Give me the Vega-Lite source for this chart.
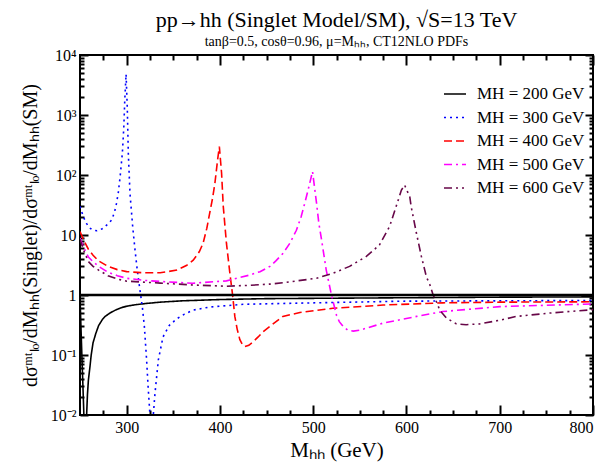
{
  "$schema": "https://vega.github.io/schema/vega-lite/v6.json",
  "width": 513,
  "height": 360,
  "autosize": {"type": "none"},
  "padding": {"left": 80, "top": 55, "right": 12, "bottom": 49},
  "background": "white",
  "config": {
    "view": {"stroke": "#000", "strokeWidth": 2},
    "font": "Liberation Serif"
  },
  "title": {
    "text": "pp→hh (Singlet Model/SM), √S=13 TeV",
    "subtitle": "tanβ=0.5, cosθ=0.96, μ=Mₕₕ, CT12NLO PDFs",
    "fontSize": 22, "subtitleFontSize": 14,
    "font": "Liberation Serif", "subtitleFont": "Liberation Serif",
    "fontWeight": "normal", "color": "#000", "subtitleColor": "#000",
    "anchor": "middle", "offset": -3, "subtitlePadding": 3
  },
  "datasets": {
    "ref": [{"v": 1}],
    "curves": [
      {"m":250,"v":0.94,"s":"200"},{"m":251,"v":0.3,"s":"200"},{"m":252,"v":0.1,"s":"200"},{"m":253,"v":0.035,"s":"200"},{"m":254,"v":0.012,"s":"200"},{"m":255,"v":0.003,"s":"200"},{"m":255.6,"v":0.0005,"s":"200"},{"m":256.3,"v":0.003,"s":"200"},{"m":257.1,"v":0.01,"s":"200"},{"m":258,"v":0.022,"s":"200"},{"m":259,"v":0.038,"s":"200"},{"m":260.7,"v":0.064,"s":"200"},{"m":262,"v":0.1,"s":"200"},{"m":264,"v":0.16,"s":"200"},{"m":267,"v":0.23,"s":"200"},{"m":270,"v":0.31,"s":"200"},{"m":274,"v":0.39,"s":"200"},{"m":277,"v":0.44,"s":"200"},{"m":282,"v":0.5,"s":"200"},{"m":288,"v":0.56,"s":"200"},{"m":295,"v":0.62,"s":"200"},{"m":300,"v":0.65,"s":"200"},{"m":310,"v":0.69,"s":"200"},{"m":320,"v":0.72,"s":"200"},{"m":336,"v":0.76,"s":"200"},{"m":360,"v":0.8,"s":"200"},{"m":400,"v":0.84,"s":"200"},{"m":450,"v":0.87,"s":"200"},{"m":500,"v":0.88,"s":"200"},{"m":600,"v":0.9,"s":"200"},{"m":700,"v":0.92,"s":"200"},{"m":800,"v":0.93,"s":"200"},
      {"m":250,"v":30,"s":"300"},{"m":252,"v":24,"s":"300"},{"m":254,"v":19.5,"s":"300"},{"m":257,"v":15.6,"s":"300"},{"m":260,"v":13.3,"s":"300"},{"m":262.5,"v":12.4,"s":"300"},{"m":265,"v":11.9,"s":"300"},{"m":268,"v":11.8,"s":"300"},{"m":271,"v":12.1,"s":"300"},{"m":275,"v":13,"s":"300"},{"m":280,"v":15.3,"s":"300"},{"m":284,"v":17.8,"s":"300"},{"m":287,"v":24,"s":"300"},{"m":289,"v":33,"s":"300"},{"m":291,"v":50,"s":"300"},{"m":293,"v":93,"s":"300"},{"m":295.4,"v":230,"s":"300"},{"m":297,"v":640,"s":"300"},{"m":298,"v":1780,"s":"300"},{"m":299.4,"v":4800,"s":"300"},{"m":300.7,"v":1300,"s":"300"},{"m":301.8,"v":230,"s":"300"},{"m":303.6,"v":49,"s":"300"},{"m":306.5,"v":13.7,"s":"300"},{"m":309,"v":5.6,"s":"300"},{"m":311.4,"v":2.6,"s":"300"},{"m":314.3,"v":1.2,"s":"300"},{"m":316.8,"v":0.64,"s":"300"},{"m":319,"v":0.3,"s":"300"},{"m":321.4,"v":0.083,"s":"300"},{"m":323,"v":0.03,"s":"300"},{"m":325,"v":0.01,"s":"300"},{"m":326,"v":0.004,"s":"300"},{"m":326.8,"v":0.0008,"s":"300"},{"m":327.6,"v":0.004,"s":"300"},{"m":328.6,"v":0.01,"s":"300"},{"m":330.4,"v":0.023,"s":"300"},{"m":334,"v":0.083,"s":"300"},{"m":339,"v":0.2,"s":"300"},{"m":345.7,"v":0.31,"s":"300"},{"m":353.6,"v":0.4,"s":"300"},{"m":362,"v":0.48,"s":"300"},{"m":371.4,"v":0.56,"s":"300"},{"m":389,"v":0.63,"s":"300"},{"m":425,"v":0.7,"s":"300"},{"m":500,"v":0.74,"s":"300"},{"m":600,"v":0.79,"s":"300"},{"m":700,"v":0.8,"s":"300"},{"m":800,"v":0.81,"s":"300"},
      {"m":250,"v":11.4,"s":"400"},{"m":254,"v":8.2,"s":"400"},{"m":259,"v":5.8,"s":"400"},{"m":264,"v":4.6,"s":"400"},{"m":270,"v":3.7,"s":"400"},{"m":280,"v":3.0,"s":"400"},{"m":290,"v":2.65,"s":"400"},{"m":300,"v":2.45,"s":"400"},{"m":318,"v":2.35,"s":"400"},{"m":336,"v":2.35,"s":"400"},{"m":354,"v":2.6,"s":"400"},{"m":364,"v":3.1,"s":"400"},{"m":371.4,"v":3.8,"s":"400"},{"m":378,"v":5.3,"s":"400"},{"m":382,"v":7.3,"s":"400"},{"m":386,"v":13,"s":"400"},{"m":389,"v":23,"s":"400"},{"m":392,"v":40,"s":"400"},{"m":394.6,"v":72,"s":"400"},{"m":397.5,"v":178,"s":"400"},{"m":399.4,"v":297,"s":"400"},{"m":401.8,"v":107,"s":"400"},{"m":403.6,"v":30,"s":"400"},{"m":407,"v":7.3,"s":"400"},{"m":410.7,"v":2.3,"s":"400"},{"m":413.6,"v":1,"s":"400"},{"m":416,"v":0.44,"s":"400"},{"m":418.5,"v":0.27,"s":"400"},{"m":421.4,"v":0.18,"s":"400"},{"m":424,"v":0.15,"s":"400"},{"m":426.8,"v":0.138,"s":"400"},{"m":431,"v":0.145,"s":"400"},{"m":435.7,"v":0.167,"s":"400"},{"m":441,"v":0.2,"s":"400"},{"m":446.4,"v":0.245,"s":"400"},{"m":453.6,"v":0.3,"s":"400"},{"m":467.5,"v":0.44,"s":"400"},{"m":485.7,"v":0.51,"s":"400"},{"m":521,"v":0.6,"s":"400"},{"m":575,"v":0.68,"s":"400"},{"m":639,"v":0.74,"s":"400"},{"m":700,"v":0.76,"s":"400"},{"m":800,"v":0.77,"s":"400"},
      {"m":250,"v":8.9,"s":"500"},{"m":254,"v":6.2,"s":"500"},{"m":259,"v":4.3,"s":"500"},{"m":264,"v":3.6,"s":"500"},{"m":270,"v":3.0,"s":"500"},{"m":280,"v":2.4,"s":"500"},{"m":290,"v":2.1,"s":"500"},{"m":300,"v":1.9,"s":"500"},{"m":320,"v":1.75,"s":"500"},{"m":336,"v":1.68,"s":"500"},{"m":371,"v":1.57,"s":"500"},{"m":407,"v":1.72,"s":"500"},{"m":432,"v":2.15,"s":"500"},{"m":443,"v":2.45,"s":"500"},{"m":453.6,"v":3.0,"s":"500"},{"m":460,"v":3.7,"s":"500"},{"m":467.5,"v":4.9,"s":"500"},{"m":475,"v":7.3,"s":"500"},{"m":482,"v":12,"s":"500"},{"m":487,"v":20,"s":"500"},{"m":491,"v":34,"s":"500"},{"m":495,"v":60,"s":"500"},{"m":499.3,"v":114,"s":"500"},{"m":503.6,"v":34,"s":"500"},{"m":506,"v":16,"s":"500"},{"m":509,"v":8.3,"s":"500"},{"m":514,"v":2.6,"s":"500"},{"m":519.6,"v":1,"s":"500"},{"m":525,"v":0.46,"s":"500"},{"m":528,"v":0.36,"s":"500"},{"m":532,"v":0.3,"s":"500"},{"m":537,"v":0.26,"s":"500"},{"m":543,"v":0.25,"s":"500"},{"m":550,"v":0.26,"s":"500"},{"m":557,"v":0.28,"s":"500"},{"m":575,"v":0.34,"s":"500"},{"m":611,"v":0.44,"s":"500"},{"m":639,"v":0.53,"s":"500"},{"m":700,"v":0.64,"s":"500"},{"m":800,"v":0.71,"s":"500"},
      {"m":250,"v":8.5,"s":"600"},{"m":254,"v":5.5,"s":"600"},{"m":259,"v":3.6,"s":"600"},{"m":264,"v":3.0,"s":"600"},{"m":270,"v":2.6,"s":"600"},{"m":280,"v":2.1,"s":"600"},{"m":290,"v":1.85,"s":"600"},{"m":300,"v":1.7,"s":"600"},{"m":336,"v":1.58,"s":"600"},{"m":371,"v":1.47,"s":"600"},{"m":407,"v":1.4,"s":"600"},{"m":432,"v":1.45,"s":"600"},{"m":453.6,"v":1.52,"s":"600"},{"m":467.5,"v":1.6,"s":"600"},{"m":503.6,"v":1.9,"s":"600"},{"m":521,"v":2.3,"s":"600"},{"m":539,"v":3.0,"s":"600"},{"m":557,"v":4.4,"s":"600"},{"m":571,"v":6.8,"s":"600"},{"m":582,"v":14,"s":"600"},{"m":589,"v":30,"s":"600"},{"m":594.6,"v":56,"s":"600"},{"m":598,"v":68,"s":"600"},{"m":603.6,"v":43,"s":"600"},{"m":605,"v":30,"s":"600"},{"m":610.7,"v":10.7,"s":"600"},{"m":616,"v":4.4,"s":"600"},{"m":621.4,"v":2.0,"s":"600"},{"m":625,"v":1.5,"s":"600"},{"m":628.6,"v":1.0,"s":"600"},{"m":632,"v":0.78,"s":"600"},{"m":635.7,"v":0.56,"s":"600"},{"m":643,"v":0.41,"s":"600"},{"m":653.6,"v":0.33,"s":"600"},{"m":664,"v":0.32,"s":"600"},{"m":678.6,"v":0.33,"s":"600"},{"m":700,"v":0.38,"s":"600"},{"m":718,"v":0.44,"s":"600"},{"m":753.6,"v":0.5,"s":"600"},{"m":800,"v":0.57,"s":"600"}
    ]
  },
  "layer": [
    {
      "data": {"name": "curves"},
      "mark": {"type": "line", "strokeWidth": 1.6, "clip": true},
      "encoding": {
        "x": {"field": "m", "type": "quantitative", "scale": {"domain": [250, 800], "nice": false, "zero": false},
              "axis": {"orient": "bottom", "values": [300, 400, 500, 600, 700, 800], "grid": false, "domain": false, "tickColor": "#000", "tickWidth": 2, "tickSize": 10, "offset": -10, "labelPadding": 4, "labelFontSize": 16, "labelFont": "Liberation Serif", "labelColor": "#000", "title": "Mₕₕ (GeV)", "titleFont": "Liberation Serif", "titleFontWeight": "normal", "titleColor": "#000", "titleFontSize": 21, "titleY": 51, "titleBaseline": "alphabetic"}},
        "y": {"field": "v", "type": "quantitative", "scale": {"type": "log", "domain": [0.01, 10000], "nice": false},
              "axis": {"orient": "left", "values": [0.01, 0.1, 1, 10, 100, 1000, 10000], "grid": false, "domain": false, "tickColor": "#000", "tickWidth": 2, "tickSize": -8, "labelPadding": 12, "labelFontSize": 16, "labelFont": "Liberation Serif", "labelColor": "#000",
                       "labelExpr": "datum.value > 5000 ? '10⁴' : datum.value > 500 ? '10³' : datum.value > 50 ? '10²' : datum.value > 5 ? '10' : datum.value > 0.5 ? '1' : datum.value > 0.05 ? '10⁻¹' : '10⁻²'",
                       "title": "dσᵐᵗₗₒ/dMₕₕ(Singlet)/dσᵐᵗₗₒ/dMₕₕ(SM)", "titleFont": "Liberation Serif", "titleFontWeight": "normal", "titleColor": "#000", "titleFontSize": 20, "titleX": -44, "titleY": 180, "titleBaseline": "alphabetic", "titleAngle": 270}},
        "color": {"field": "s", "type": "nominal",
                  "scale": {"domain": ["200", "300", "400", "500", "600"], "range": ["#000000", "#0000ff", "#ff0000", "#ff00ff", "#670748"]},
                  "legend": {"orient": "none", "legendX": 363, "legendY": 27, "title": null, "labelExpr": "'MH = ' + datum.label + ' GeV'", "labelFontSize": 17, "labelFont": "Liberation Serif", "labelColor": "#000", "symbolType": "stroke", "symbolSize": 484, "symbolStrokeWidth": 1.6, "rowPadding": 3.5, "labelOffset": 10, "padding": 0}},
        "strokeDash": {"field": "s", "type": "nominal",
                  "scale": {"domain": ["200", "300", "400", "500", "600"], "range": [[1, 0], [2, 4], [8, 4], [8, 4, 2, 4], [8, 4, 2, 4, 2, 4]]},
                  "legend": {"orient": "none", "legendX": 363, "legendY": 27, "title": null, "labelExpr": "'MH = ' + datum.label + ' GeV'", "labelFontSize": 17, "labelFont": "Liberation Serif", "labelColor": "#000", "symbolType": "stroke", "symbolSize": 484, "symbolStrokeWidth": 1.6, "rowPadding": 3.5, "labelOffset": 10, "padding": 0}}
      }
    },
    {
      "data": {"name": "curves"},
      "mark": {"type": "line", "strokeOpacity": 0},
      "encoding": {
        "x": {"field": "m", "type": "quantitative", "scale": {"domain": [250, 800], "nice": false, "zero": false},
              "axis": {"orient": "top", "values": [300, 400, 500, 600, 700, 800], "grid": false, "domain": false, "tickColor": "#000", "tickWidth": 2, "tickSize": 10, "offset": -10, "labels": false, "title": null}},
        "y": {"field": "v", "type": "quantitative", "scale": {"type": "log", "domain": [0.01, 10000], "nice": false},
              "axis": {"orient": "right", "values": [0.01, 0.1, 1, 10, 100, 1000, 10000], "grid": false, "domain": false, "tickColor": "#000", "tickWidth": 2, "tickSize": 8, "offset": -8, "labels": false, "title": null}},
        "detail": {"field": "s"}
      }
    },
    {
      "data": {"name": "curves"},
      "mark": {"type": "line", "strokeOpacity": 0},
      "encoding": {
        "x": {"field": "m", "type": "quantitative", "scale": {"domain": [250, 800], "nice": false, "zero": false},
              "axis": {"orient": "bottom", "values": [275, 325, 350, 375, 425, 450, 475, 525, 550, 575, 625, 650, 675, 725, 750, 775], "grid": false, "domain": false, "tickColor": "#000", "tickWidth": 2, "tickSize": 5, "offset": -5, "labels": false, "title": null}},
        "y": {"field": "v", "type": "quantitative", "scale": {"type": "log", "domain": [0.01, 10000], "nice": false},
              "axis": {"orient": "left", "values": [0.02,0.03,0.04,0.05,0.06,0.07,0.08,0.09,0.2,0.3,0.4,0.5,0.6,0.7,0.8,0.9,2,3,4,5,6,7,8,9,20,30,40,50,60,70,80,90,200,300,400,500,600,700,800,900,2000,3000,4000,5000,6000,7000,8000,9000], "grid": false, "domain": false, "tickColor": "#000", "tickWidth": 2, "tickSize": 4, "offset": -4, "labels": false, "title": null}},
        "detail": {"field": "s"}
      }
    },
    {
      "data": {"name": "curves"},
      "mark": {"type": "line", "strokeOpacity": 0},
      "encoding": {
        "x": {"field": "m", "type": "quantitative", "scale": {"domain": [250, 800], "nice": false, "zero": false},
              "axis": {"orient": "top", "values": [275, 325, 350, 375, 425, 450, 475, 525, 550, 575, 625, 650, 675, 725, 750, 775], "grid": false, "domain": false, "tickColor": "#000", "tickWidth": 2, "tickSize": 5, "offset": -5, "labels": false, "title": null}},
        "y": {"field": "v", "type": "quantitative", "scale": {"type": "log", "domain": [0.01, 10000], "nice": false},
              "axis": {"orient": "right", "values": [0.02,0.03,0.04,0.05,0.06,0.07,0.08,0.09,0.2,0.3,0.4,0.5,0.6,0.7,0.8,0.9,2,3,4,5,6,7,8,9,20,30,40,50,60,70,80,90,200,300,400,500,600,700,800,900,2000,3000,4000,5000,6000,7000,8000,9000], "grid": false, "domain": false, "tickColor": "#000", "tickWidth": 2, "tickSize": 4, "offset": -4, "labels": false, "title": null}},
        "detail": {"field": "s"}
      }
    },
    {
      "data": {"name": "ref"},
      "mark": {"type": "rule", "strokeWidth": 2.5, "color": "#000"},
      "encoding": {
        "y": {"field": "v", "type": "quantitative", "scale": {"type": "log", "domain": [0.01, 10000], "nice": false}, "axis": null}
      }
    }
  ],
  "resolve": {"axis": {"x": "independent", "y": "independent"}}
}
